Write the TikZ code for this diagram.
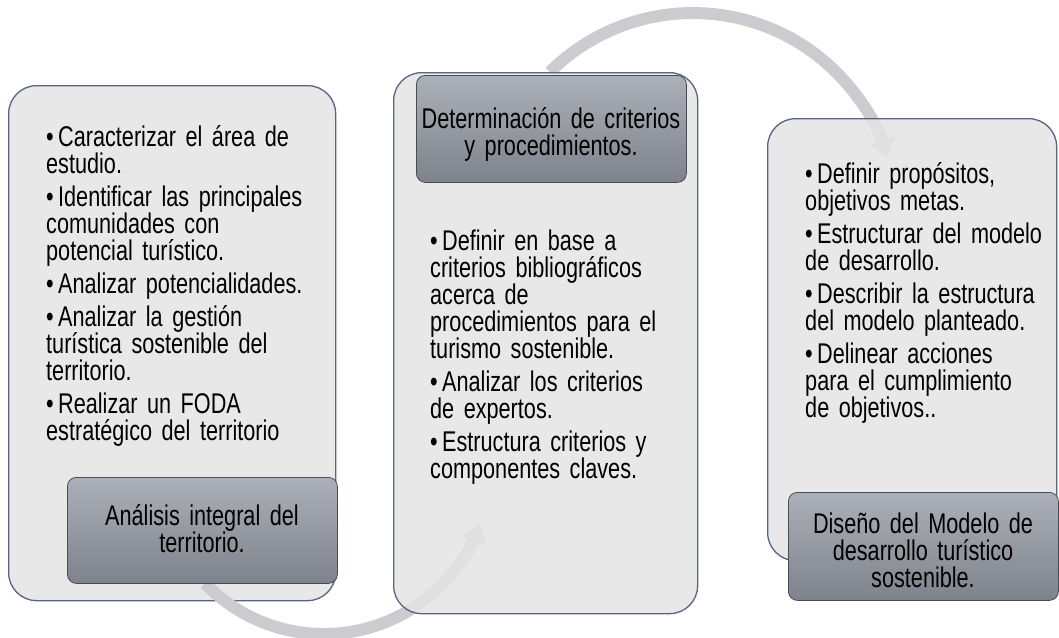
\documentclass[tikz,border=0pt]{standalone}
\usepackage{fontspec}
\setmainfont[FakeStretch=0.76]{Liberation Sans}
\usetikzlibrary{arrows.meta}
\definecolor{boxfill}{RGB}{228,228,228}
\definecolor{boxline}{RGB}{86,102,127}
\definecolor{ttop}{RGB}{172,176,184}
\definecolor{tbot}{RGB}{126,130,139}
\definecolor{tline}{RGB}{72,76,84}
\definecolor{arrowc}{RGB}{204,204,208}
\newcommand{\bitem}[1]{\par\noindent\hangindent=12pt\hangafter=1\makebox[12pt][l]{•}#1\par}
\newcommand{\mylistfont}{\fontsize{28.5pt}{27pt}\selectfont\lineskiplimit=-50pt\relax\parskip=6pt\relax\spaceskip=5.5pt plus 2pt minus 1pt\relax}
\newcommand{\mytitlefont}{\fontsize{28.5pt}{27pt}\selectfont\lineskiplimit=-50pt\relax\spaceskip=5.5pt plus 2pt minus 1pt\relax}
\tikzset{
  bigbox/.style={draw=boxline, line width=1.3pt, fill=boxfill, fill opacity=0.85, rounded corners=28pt, anchor=north west, inner sep=0pt},
  titlebox/.style={draw=tline, line width=0.8pt, top color=ttop, bottom color=tbot, rounded corners=9pt, anchor=north west, inner sep=0pt, minimum width=270pt},
  listtext/.style={anchor=north west, inner sep=0pt, text width=300pt, align=left, text opacity=1, font=\mylistfont},
  titletext/.style={anchor=north, inner sep=0pt, text width=268pt, align=center, font=\mytitlefont},
  bigarrow/.style={draw=arrowc, line width=12pt, -{Triangle[width=26pt,length=18pt]}}
}
\begin{document}
\begin{tikzpicture}[x=1pt,y=1pt]
\useasboundingbox (0,0) rectangle (1059,-637);
% box 1
\node[bigbox, minimum width=327pt, minimum height=515pt] (b1) at (8,-85) {};
\node[listtext] (l1) at (46,-113) {%
\bitem{\rule{0pt}{28pt}Caracterizar el área de\\estudio.}
\bitem{Identificar las principales\\comunidades con\\potencial turístico.}
\bitem{Analizar potencialidades.}
\bitem{Analizar la gestión\\turística sostenible del\\territorio.}
\bitem{Realizar un FODA\\estratégico del territorio}};
% arrow 1
\coordinate (a1s) at (204.9,-583.2);
\draw[bigarrow] (a1s) arc[start angle=223.8, end angle=340.6, radius=165];
\node[titlebox, minimum height=106pt] (t1) at (67,-477) {};
\node[titletext] (t1x) at (202,-497) {\rule{0pt}{28pt}Análisis integral del\\territorio.};
% arrow 2
\coordinate (a2s) at (549.9,-72);
\draw[bigarrow] (a2s) arc[start angle=134.8, end angle=16.8, radius=203];
% box 2
\node[bigbox, minimum width=304pt, minimum height=541pt] (b2) at (393,-72) {};
\node[titlebox, minimum height=107pt] (t2) at (416,-75) {};
\node[titletext] (t2x) at (551,-100) {\rule{0pt}{28pt}Determinación de criterios\\y procedimientos.};
\node[listtext] (l2) at (430,-217) {%
\bitem{\rule{0pt}{28pt}Definir en base a\\criterios bibliográficos\\acerca de\\procedimientos para el\\turismo sostenible.}
\bitem{Analizar los criterios\\de expertos.}
\bitem{Estructura criterios y\\componentes claves.}};
% box 3
\node[bigbox, minimum width=289pt, minimum height=442pt] (b3) at (767,-118) {};
\node[listtext] (l3) at (805,-150) {%
\bitem{\rule{0pt}{28pt}Definir propósitos,\\objetivos metas.}
\bitem{Estructurar del modelo\\de desarrollo.}
\bitem{Describir la estructura\\del modelo planteado.}
\bitem{Delinear acciones\\para el cumplimiento\\de objetivos..}};
\node[titlebox, minimum height=108pt] (t3) at (788,-492) {};
\node[titletext] (t3x) at (923,-505) {\rule{0pt}{28pt}Diseño del Modelo de\\desarrollo turístico\\sostenible.};
\end{tikzpicture}
\end{document}
